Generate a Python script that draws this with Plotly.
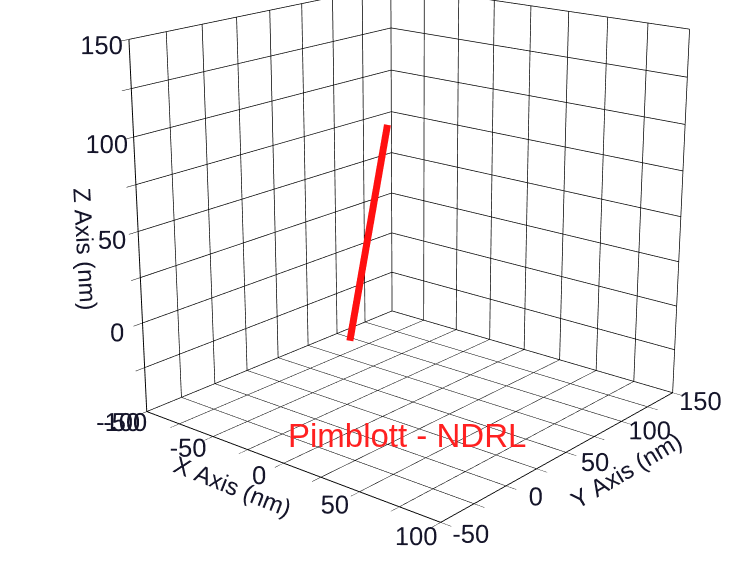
import plotly.graph_objects as go

# data
track_x = [0, 0]
track_y = [0, 30]
track_z = [0, 107]

x_ticks = [-100, -75, -50, -25, 0, 25, 50, 75, 100]
x_text = ["-100", "", "-50", "", "0", "", "50", "", "100"]
yz_ticks = [-50, -25, 0, 25, 50, 75, 100, 125, 150]
yz_text = ["-50", "", "0", "", "50", "", "100", "", "150"]

label = "Pimblott - NDRL"

# large canvas so that a distant (weak-perspective) camera still fills the window
FW, FH = 1920, 1500
OFF_X, OFF_Y = 413 - FW // 2, 224 - FH // 2

axis_common = dict(
    showbackground=False,
    gridcolor="black",
    gridwidth=1.5,
    showline=True,
    linecolor="black",
    linewidth=2,
    zeroline=False,
    ticks="outside",
    ticklen=10,
    tickcolor="black",
    tickangle=0,
    tickfont=dict(family="Liberation Sans, Arial", size=17.5, color="#15152a"),
    showspikes=False,
)

fig = go.Figure()
fig.add_trace(go.Scatter3d(
    x=track_x, y=track_y, z=track_z,
    mode="lines",
    line=dict(color="#ff1010", width=14),
    showlegend=False,
))

title_font = dict(family="Liberation Sans, Arial", size=24, color="#15152a")
fig.update_layout(
    width=FW, height=FH,
    margin=dict(l=0, r=0, t=0, b=0),
    paper_bgcolor="white",
    font=dict(family="Liberation Sans, Arial", color="#15152a"),
    scene=dict(
        domain=dict(x=[0, 1], y=[0, 1]),
        aspectmode="cube",
        xaxis=dict(axis_common, range=[-100, 100], tickvals=x_ticks, ticktext=x_text,
                   title=dict(text="X Axis (nm)", font=title_font)),
        yaxis=dict(axis_common, range=[-50, 150], tickvals=yz_ticks, ticktext=yz_text,
                   title=dict(text="Y Axis (nm)", font=title_font)),
        zaxis=dict(axis_common, range=[-50, 150], tickvals=yz_ticks, ticktext=yz_text,
                   title=dict(text="Z Axis (nm)", font=title_font)),
        camera=dict(eye=dict(x=2.870, y=-3.443, z=1.413), center=dict(x=0, y=0, z=0),
                    projection=dict(type="perspective")),
    ),
    annotations=[dict(
        text=label, x=(407 - OFF_X) / FW, y=1 - (435 - OFF_Y) / FH,
        xref="paper", yref="paper", xanchor="center", yanchor="middle",
        showarrow=False, font=dict(family="Liberation Sans, Arial", size=33, color="#ff2020"),
    )],
)

post = (
    "document.documentElement.style.overflow='hidden';"
    "document.body.style.overflow='hidden';document.body.style.margin='0';"
    "var gd=document.getElementById('{plot_id}');"
    "gd.style.position='absolute';gd.style.left='%dpx';gd.style.top='%dpx';" % (OFF_X, OFF_Y)
)
fig.write_html("out.html", post_script=post)
